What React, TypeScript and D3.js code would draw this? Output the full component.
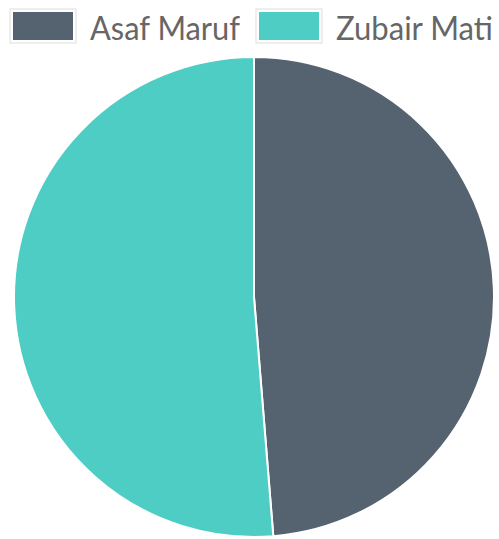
import React from "react";
import * as d3 from "d3";

const labels = ["Asaf Maruf", "Zubair Mati"];
const values = [19, 20];
const colors = ["#556270", "#4ECDC4"];

export default function App() {
  const W = 499, H = 539;
  const cx = 254, cy = 297, r = 240;
  const pie = d3.pie<number>().sort(null).value((d) => d);
  const arcs = pie(values);
  const arc = d3.arc<d3.PieArcDatum<number>>().innerRadius(0).outerRadius(r);
  const legendX = [10, 256];
  const textLen = [150, 157];
  return (
    <svg width={W} height={H} style={{ position: "absolute", left: 0, top: 0 }}>
      <g transform={`translate(${cx},${cy})`}>
        {arcs.map((a, i) => (
          <path key={i} d={arc(a) || ""} fill={colors[i]} stroke="#fff" strokeWidth={2} strokeLinejoin="round" />
        ))}
      </g>
      {labels.map((l, i) => (
        <g key={l} transform={`translate(${legendX[i]},9)`}>
          <rect x={0} y={0} width={66} height={34} fill="none" stroke="#ddd" strokeWidth={1} />
          <rect x={2} y={2} width={62} height={30} fill={colors[i]} stroke="#fff" strokeWidth={2} />
          <text x={80} y={30.5} fontFamily="Lato" fontSize={32} fill="#666" textLength={textLen[i]} lengthAdjust="spacingAndGlyphs">{l}</text>
        </g>
      ))}
    </svg>
  );
}
